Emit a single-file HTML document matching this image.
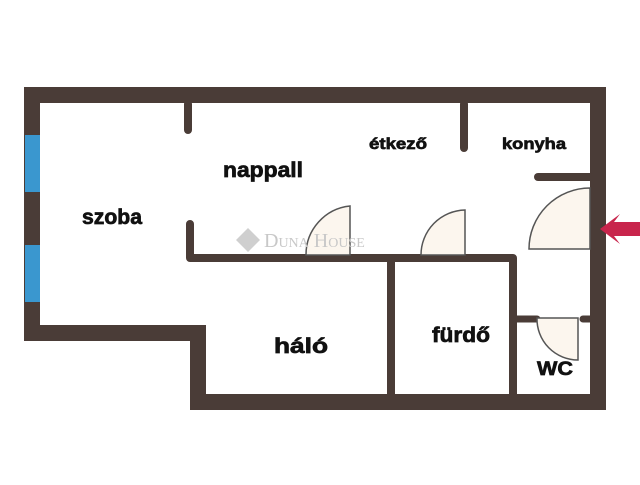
<!DOCTYPE html>
<html><head><style>
body{margin:0;background:#fff;width:640px;height:480px;overflow:hidden;font-family:"Liberation Sans",sans-serif}
</style></head><body>
<svg width="640" height="480" viewBox="0 0 640 480" xmlns="http://www.w3.org/2000/svg">
<g fill="none" stroke="#4a3c37" stroke-linecap="round" stroke-linejoin="round">
<path d="M32 95 H598 V402 H198 V333 H32 Z" stroke-width="16" stroke-linejoin="miter" stroke-linecap="butt"/>
<path d="M188 104 V130" stroke-width="8"/>
<path d="M464 104 V148" stroke-width="8"/>
<path d="M538 177 H590" stroke-width="8"/>
<path d="M190 224 V258 H513 V394" stroke-width="8"/>
<path d="M391 258 V394" stroke-width="8"/>
<path d="M513 319 H537 M583 319 H590" stroke-width="7"/>
</g>
<rect x="25" y="135" width="15" height="57" fill="#3a97cf"/>
<rect x="25" y="245" width="15" height="57" fill="#3a97cf"/>
<g fill="#fcf6ee" stroke="#555" stroke-width="1.5">
<path d="M350 255 V206 A49 49 0 0 0 306 255 Z"/>
<path d="M465 255 V210 A45 45 0 0 0 421 255 Z"/>
<path d="M590 249 V188 A61 61 0 0 0 529 249 Z"/>
<path d="M537 318 H578 V360 A41 41 0 0 1 537 318 Z"/>
</g>
<path d="M640 222 H614 L620 214 L600 229 L620 244 L614 236 H640 Z" fill="#c8254c"/>
<g fill="#cfcfcf"><path d="M248 228 L260 240 L248 252 L236 240 Z"/></g>
<text x="264" y="247" font-family="Liberation Serif,serif" font-size="20" fill="#c8c8c8" style="font-variant:small-caps">Duna House</text>
<g font-weight="bold" fill="#111" stroke="#111" stroke-width="0.7" text-anchor="middle">
<text x="112" y="224" font-size="21" textLength="60" lengthAdjust="spacingAndGlyphs">szoba</text>
<text x="263" y="177" font-size="21" textLength="80" lengthAdjust="spacingAndGlyphs">nappall</text>
<text x="398" y="149" font-size="16" textLength="58" lengthAdjust="spacingAndGlyphs">étkező</text>
<text x="534" y="149" font-size="16" textLength="64" lengthAdjust="spacingAndGlyphs">konyha</text>
<text x="301" y="353" font-size="21" textLength="54" lengthAdjust="spacingAndGlyphs">háló</text>
<text x="461" y="342" font-size="21" textLength="58" lengthAdjust="spacingAndGlyphs">fürdő</text>
<text x="555" y="375" font-size="19" textLength="36" lengthAdjust="spacingAndGlyphs">WC</text>
</g>
</svg>
</body></html>
